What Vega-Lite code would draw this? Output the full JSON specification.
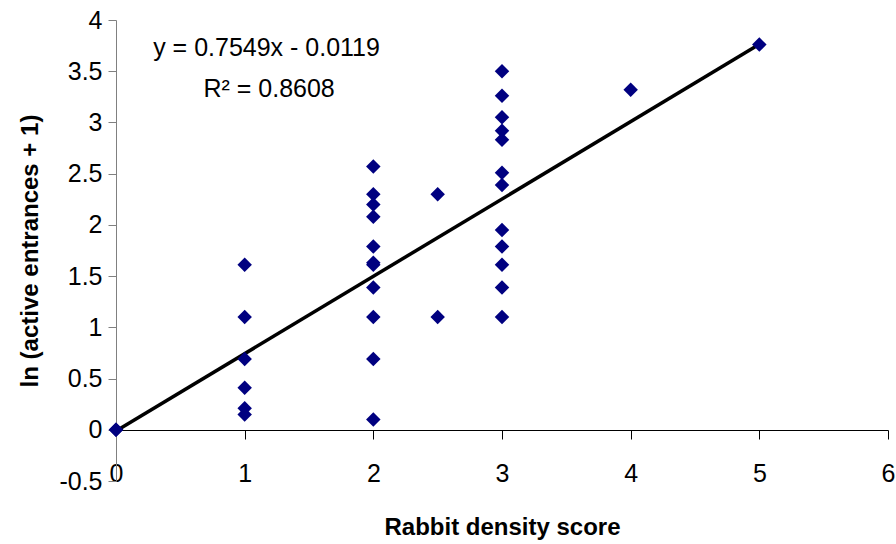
{
  "$schema": "https://vega.github.io/schema/vega-lite/v6.json",
  "width": 772,
  "height": 461,
  "autosize": {"type": "none"},
  "padding": {"left": 116, "top": 20, "right": 8, "bottom": 63},
  "background": "white",
  "config": {
    "view": {"stroke": null},
    "font": "Liberation Sans"
  },
  "datasets": {
    "pts": [
      {"score": 0, "value": 0},
      {"score": 0, "value": 0},
      {"score": 1, "value": 1.61},
      {"score": 1, "value": 1.10},
      {"score": 1, "value": 0.69},
      {"score": 1, "value": 0.41},
      {"score": 1, "value": 0.21},
      {"score": 1, "value": 0.15},
      {"score": 2, "value": 2.57},
      {"score": 2, "value": 2.30},
      {"score": 2, "value": 2.20},
      {"score": 2, "value": 2.08},
      {"score": 2, "value": 1.79},
      {"score": 2, "value": 1.63},
      {"score": 2, "value": 1.61},
      {"score": 2, "value": 1.39},
      {"score": 2, "value": 1.10},
      {"score": 2, "value": 0.69},
      {"score": 2, "value": 0.10},
      {"score": 2.5, "value": 2.30},
      {"score": 2.5, "value": 1.10},
      {"score": 3, "value": 3.50},
      {"score": 3, "value": 3.26},
      {"score": 3, "value": 3.05},
      {"score": 3, "value": 2.92},
      {"score": 3, "value": 2.83},
      {"score": 3, "value": 2.51},
      {"score": 3, "value": 2.39},
      {"score": 3, "value": 1.95},
      {"score": 3, "value": 1.79},
      {"score": 3, "value": 1.61},
      {"score": 3, "value": 1.39},
      {"score": 3, "value": 1.10},
      {"score": 4, "value": 3.32},
      {"score": 5, "value": 3.76}
    ],
    "trend": [
      {"score": 0, "value": -0.0119},
      {"score": 5, "value": 3.7626}
    ],
    "notes": [
      {"score": 1.17, "value": 3.646, "label": "y = 0.7549x - 0.0119"},
      {"score": 1.19, "value": 3.245, "label": "R² = 0.8608"}
    ]
  },
  "layer": [
    {
      "data": {"name": "trend"},
      "mark": {"type": "line", "color": "black", "strokeWidth": 3.5},
      "encoding": {
        "x": {
          "field": "score", "type": "quantitative",
          "scale": {"domain": [0, 6], "nice": false, "zero": false},
          "axis": {
            "title": "Rabbit density score",
            "values": [0, 1, 2, 3, 4, 5, 6],
            "format": "d",
            "grid": false,
            "offset": -51,
            "domainColor": "#000000",
            "tickColor": "#000000",
            "tickSize": 9,
            "labelPadding": 22,
            "labelFontSize": 25,
            "labelColor": "black",
            "labelFlush": false,
            "titleFontSize": 24,
            "titleFontWeight": "bold",
            "titleColor": "black",
            "titlePadding": 29
          }
        },
        "y": {
          "field": "value", "type": "quantitative",
          "scale": {"domain": [-0.5, 4], "nice": false, "zero": false},
          "axis": {
            "title": "ln (active entrances + 1)",
            "values": [-0.5, 0, 0.5, 1, 1.5, 2, 2.5, 3, 3.5, 4],
            "format": ".1~f",
            "labelExpr": "replace(datum.label, '\u2212', '-')",
            "grid": false,
            "domainColor": "#808080",
            "tickColor": "#808080",
            "tickSize": 8,
            "labelPadding": 6,
            "labelFontSize": 25,
            "labelColor": "black",
            "labelFlush": false,
            "titleFontSize": 24,
            "titleFontWeight": "bold",
            "titleColor": "black",
            "titlePadding": 16
          }
        }
      }
    },
    {
      "data": {"name": "pts"},
      "mark": {"type": "point", "shape": "diamond", "filled": true, "size": 210, "color": "#000080", "opacity": 1},
      "encoding": {
        "x": {"field": "score", "type": "quantitative"},
        "y": {"field": "value", "type": "quantitative"}
      }
    },
    {
      "data": {"name": "notes"},
      "mark": {"type": "text", "align": "center", "baseline": "alphabetic", "fontSize": 25, "color": "black"},
      "encoding": {
        "x": {"field": "score", "type": "quantitative"},
        "y": {"field": "value", "type": "quantitative"},
        "text": {"field": "label"}
      }
    }
  ]
}
